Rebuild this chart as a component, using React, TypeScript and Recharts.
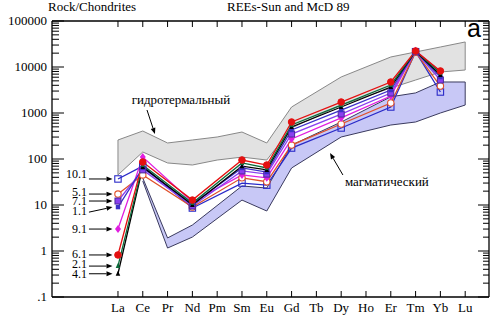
import { ComposedChart, Line, Area, XAxis, YAxis, ReferenceLine } from 'recharts';

const elements = ['La', 'Ce', 'Pr', 'Nd', 'Pm', 'Sm', 'Eu', 'Gd', 'Tb', 'Dy', 'Ho', 'Er', 'Tm', 'Yb', 'Lu'];

// rock / chondrite values per element, null where not measured
const s10_1 = [36.8, 70, null, 8.6, null, 30, 27, 173, null, 472, null, 1350, 21500, 2860, null];
const s5_1 = [17.3, 45, null, 9.0, null, 39, 32, 201, null, 577, null, 1650, 21000, 3860, null];
const s9_1 = [3.0, 110, null, 11.6, null, 45, 39, 272, null, 780, null, 2340, 22500, 7800, null];
const s7_1 = [12.2, 58, null, 9.5, null, 55, 47, 349, null, 950, null, 2720, 21500, 5220, null];
const s1_1 = [9.0, 64, null, 10.5, null, 64, 52, 427, null, 1160, null, 3160, 22000, 6060, null];
const s4_1 = [0.32, 67, null, 10.0, null, 70, 58, 496, null, 1350, null, 3670, 21800, 6700, null];
const s2_1 = [0.47, 74, null, 11.0, null, 82, 64, 548, null, 1490, null, 4060, 22000, 7400, null];
const s6_1 = [0.82, 86, null, 12.8, null, 95, 74, 637, null, 1730, null, 4720, 22300, 8200, null];

// fields
const hydroLow = [45, 142, 82, 74, 95, 110, 95, 472, null, 1490, null, 3490, 5210, 7780, 8600];
const hydroHigh = [259, 406, 223, 259, 301, 386, 223, 1350, null, 6070, null, 16500, 21200, 27200, 35000];
const magmaLow = [null, 33.2, 1.16, 2.01, null, 12.8, 7.4, 63.7, null, 301, null, 548, 637, 1000, 1490];
const magmaHigh = [null, 38.6, 1.92, 3.67, null, 25.9, 23.4, 201, null, 637, null, 2250, 2730, 4720, 4720];

const samples = [
  { name: '10.1', values: s10_1, color: '#2a2ac8', marker: 'squareOpen', arrowFrom: 36.8, dy: -1 },
  { name: '5.1', values: s5_1, color: '#e0502a', marker: 'circleOpen', arrowFrom: 17.3, dy: 2 },
  { name: '9.1', values: s9_1, color: '#e01ee0', marker: 'diamond', arrowFrom: 3.0, dy: 4 },
  { name: '7.1', values: s7_1, color: '#8a3ff0', marker: 'squareFill', arrowFrom: 12.2, dy: 4 },
  { name: '1.1', values: s1_1, color: '#3b30c8', marker: 'squareSmall', arrowFrom: 7.0, dy: 3 },
  { name: '4.1', values: s4_1, color: '#000000', marker: 'triangle', arrowFrom: 0.32, dy: 4 },
  { name: '2.1', values: s2_1, color: '#0b6b3a', marker: 'triangle', arrowFrom: 0.47, dy: 2 },
  { name: '6.1', values: s6_1, color: '#e41010', marker: 'circleFill', arrowFrom: 0.82, dy: 3 },
];

const serif = '"Liberation Serif", "Times New Roman", serif';

const toPoints = (vals: (number | null)[]) =>
  vals.map((v, i) => (v == null ? null : { x: i, v })).filter(Boolean) as { x: number; v: number }[];

const toBand = (lo: (number | null)[], hi: (number | null)[]) =>
  lo.map((v, i) => (v == null || hi[i] == null ? null : { x: i, range: [v, hi[i]] })).filter(Boolean);

const allYTicks = (() => {
  const out: number[] = [];
  for (let e = -1; e <= 4; e++) {
    for (let k = 1; k <= 9; k++) out.push(k * Math.pow(10, e));
  }
  out.push(100000);
  return out;
})();

const isMajor = (v: number) => Math.abs(Math.log10(v) - Math.round(Math.log10(v))) < 1e-6;
const fmtY = (v: number) => (v < 1 ? '.1' : String(Math.round(v)));

const LeftTick = ({ x, y, payload }: any) => {
  const major = isMajor(payload.value);
  return (
    <g>
      <line x1={x} x2={x + (major ? 12 : 7)} y1={y} y2={y} stroke="#000" strokeWidth={1} />
      {major && (
        <text x={x - 5} y={y + 4} textAnchor="end" fontSize={13} style={{ fontFamily: serif }} fill="#000">
          {fmtY(payload.value)}
        </text>
      )}
    </g>
  );
};

const RightTick = ({ x, y, payload }: any) => {
  const major = isMajor(payload.value);
  return <line x1={x} x2={x - (major ? 11 : 6)} y1={y} y2={y} stroke="#000" strokeWidth={1} />;
};

const BottomTick = ({ x, y, payload }: any) => (
  <g>
    <line x1={x} x2={x} y1={y} y2={y - 6} stroke="#000" strokeWidth={1} />
    <text x={x} y={y + 15} textAnchor="middle" fontSize={13} style={{ fontFamily: serif }} fill="#000">
      {elements[payload.value]}
    </text>
  </g>
);

const TopTick = ({ x, y }: any) => <line x1={x} x2={x} y1={y} y2={y + 6} stroke="#000" strokeWidth={1} />;

const Marker = ({ cx, cy, color, kind }: any) => {
  if (cx == null || cy == null) return null;
  switch (kind) {
    case 'circleFill':
      return <circle cx={cx} cy={cy} r={3.3} fill={color} stroke={color} />;
    case 'circleOpen':
      return <circle cx={cx} cy={cy} r={3.2} fill="#fff" stroke={color} strokeWidth={1.1} />;
    case 'squareOpen':
      return <rect x={cx - 3.2} y={cy - 3.2} width={6.4} height={6.4} fill="none" stroke={color} strokeWidth={1.1} />;
    case 'squareFill':
      return <rect x={cx - 3} y={cy - 3} width={6} height={6} fill={color} stroke="#4a2a9a" strokeWidth={1} />;
    case 'squareSmall':
      return <rect x={cx - 2.2} y={cy - 2.2} width={4.4} height={4.4} fill={color} />;
    case 'diamond':
      return <polygon points={`${cx},${cy - 4} ${cx + 3},${cy} ${cx},${cy + 4} ${cx - 3},${cy}`} fill={color} />;
    case 'triangle':
      return <polygon points={`${cx},${cy - 3} ${cx - 2.3},${cy + 2} ${cx + 2.3},${cy + 2}`} fill={color} />;
    default:
      return null;
  }
};

const arrowShape = (text: string, tx: number, ty: number, anchor: string, size = 13) => (p: any) => {
  const { x1, y1, x2, y2 } = p;
  if (x1 == null) return <g />;
  const ang = Math.atan2(y2 - y1, x2 - x1);
  const L = 6;
  const W = 2.4;
  const bx = x2 - L * Math.cos(ang);
  const by = y2 - L * Math.sin(ang);
  const pts = `${x2},${y2} ${bx - W * Math.sin(ang)},${by + W * Math.cos(ang)} ${bx + W * Math.sin(ang)},${by - W * Math.cos(ang)}`;
  return (
    <g>
      <line x1={x1} y1={y1} x2={bx} y2={by} stroke="#000" strokeWidth={1} />
      <polygon points={pts} fill="#000" />
      <text x={x1 + tx} y={y1 + ty} textAnchor={anchor} fontSize={size} style={{ fontFamily: serif }} fill="#000">
        {text}
      </text>
    </g>
  );
};

const last = elements.length - 1;

export default function App() {
  return (
    <div style={{ position: 'absolute', left: 0, top: 0, width: 490, height: 316, background: '#fff' }}>
      <ComposedChart width={490} height={316} margin={{ top: 0, right: 0, bottom: 0, left: 0 }}>
        <XAxis
          xAxisId={0}
          type="number"
          dataKey="x"
          domain={[-2.66, 14.96]}
          allowDataOverflow
          ticks={elements.map((_, i) => i)}
          interval={0}
          height={19}
          tickSize={0}
          tickMargin={0}
          tick={<BottomTick />}
          axisLine={{ stroke: '#000', strokeWidth: 1.3 }}
          tickLine={false}
        />
        <XAxis
          xAxisId="top"
          orientation="top"
          type="number"
          dataKey="x"
          domain={[-2.66, 14.96]}
          allowDataOverflow
          ticks={elements.map((_, i) => i)}
          interval={0}
          height={21}
          tickSize={0}
          tickMargin={0}
          tick={<TopTick />}
          axisLine={{ stroke: '#000', strokeWidth: 1.3 }}
          tickLine={false}
        />
        <YAxis
          yAxisId={0}
          scale="log"
          type="number"
          domain={[0.1, 100000]}
          allowDataOverflow
          ticks={allYTicks}
          interval={0}
          width={52}
          tickSize={0}
          tickMargin={0}
          tick={<LeftTick />}
          axisLine={{ stroke: '#000', strokeWidth: 1.3 }}
          tickLine={false}
        />
        <YAxis
          yAxisId="right"
          orientation="right"
          scale="log"
          type="number"
          domain={[0.1, 100000]}
          allowDataOverflow
          ticks={allYTicks}
          interval={0}
          width={1}
          tickSize={0}
          tickMargin={0}
          tick={<RightTick />}
          axisLine={{ stroke: '#000', strokeWidth: 1.3 }}
          tickLine={false}
        />

        <Area
          xAxisId="top"
          yAxisId="right"
          data={toBand(hydroLow, hydroHigh)}
          dataKey="range"
          type="linear"
          fill="#e2e2e2"
          fillOpacity={1}
          stroke="#888"
          strokeWidth={1}
          isAnimationActive={false}
        />
        <Area
          data={toBand(magmaLow, magmaHigh)}
          dataKey="range"
          type="linear"
          fill="#c8c8f6"
          fillOpacity={1}
          stroke="#3a3a5e"
          strokeWidth={1}
          isAnimationActive={false}
        />
        <ReferenceLine
          segment={[
            { x: 0, y: hydroLow[0] as number },
            { x: 0, y: hydroHigh[0] as number },
          ]}
          stroke="#888"
          strokeWidth={1}
        />
        <ReferenceLine
          segment={[
            { x: last, y: hydroLow[last] as number },
            { x: last, y: hydroHigh[last] as number },
          ]}
          stroke="#888"
          strokeWidth={1}
        />
        <ReferenceLine
          segment={[
            { x: last, y: magmaLow[last] as number },
            { x: last, y: magmaHigh[last] as number },
          ]}
          stroke="#3a3a5e"
          strokeWidth={1}
        />

        {samples.map((s) => (
          <Line
            key={s.name}
            data={toPoints(s.values)}
            dataKey="v"
            type="linear"
            stroke={s.color}
            strokeWidth={1.3}
            dot={(p: any) => <Marker key={`${s.name}-${p.index}`} cx={p.cx} cy={p.cy} color={s.color} kind={s.marker} />}
            activeDot={false}
            isAnimationActive={false}
          />
        ))}

        {samples.map((s) => (
          <ReferenceLine
            key={`lab-${s.name}`}
            segment={[
              { x: -1.17, y: s.arrowFrom },
              { x: -0.22, y: s.values[0] as number },
            ]}
            shape={arrowShape(s.name, -2, s.dy, 'end', 12)}
          />
        ))}
        <ReferenceLine
          segment={[
            { x: 1.17, y: 1162 },
            { x: 1.49, y: 350 },
          ]}
          shape={arrowShape('гидротермальный', 34, -6, 'middle')}
        />
        <ReferenceLine
          segment={[
            { x: 9.07, y: 44.9 },
            { x: 8.55, y: 135 },
          ]}
          shape={arrowShape('магматический', 2, 11, 'start')}
        />
      </ComposedChart>
      <svg width={490} height={316} style={{ position: 'absolute', left: 0, top: 0, pointerEvents: 'none' }}>
        <text x={48} y={11} fontSize={13} style={{ fontFamily: serif }} fill="#000">
          Rock/Chondrites
        </text>
        <text x={227} y={11} fontSize={13} style={{ fontFamily: serif }} fill="#000">
          REEs-Sun and McD 89
        </text>
        <text x={467} y={37} fontSize={25} style={{ fontFamily: '"Liberation Sans", Arial, sans-serif' }} fill="#000">
          a
        </text>
      </svg>
    </div>
  );
}
